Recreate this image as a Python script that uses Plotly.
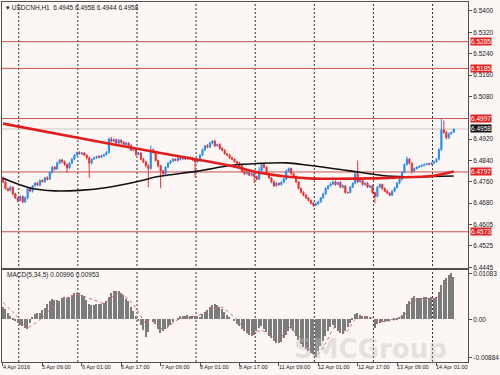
import plotly.graph_objects as go

# ---------------- data ----------------
symbol_title = "USDCNH,H1  6.4945 6.4958 6.4944 6.4958"
macd_title = "MACD(5,34,5) 0.00996 0.00953"

first_open = 6.4775
closes = [
    6.4760, 6.4735, 6.4728, 6.4740, 6.4715, 6.4700, 6.4690, 6.4705, 6.4685, 6.4700,
    6.4735, 6.4725, 6.4745, 6.4755, 6.4748, 6.4765, 6.4760, 6.4775, 6.4770, 6.4795,
    6.4815, 6.4808, 6.4830, 6.4842, 6.4835, 6.4825, 6.4812, 6.4830, 6.4845, 6.4860,
    6.4870, 6.4865, 6.4868, 6.4860, 6.4850, 6.4830, 6.4845, 6.4850, 6.4855, 6.4852,
    6.4858, 6.4862, 6.4870, 6.4920, 6.4912, 6.4918, 6.4905, 6.4915, 6.4908, 6.4900,
    6.4905, 6.4895, 6.4878, 6.4880, 6.4862, 6.4868, 6.4845, 6.4835, 6.4820, 6.4810,
    6.4880, 6.4870, 6.4840, 6.4820, 6.4800, 6.4790, 6.4815, 6.4830, 6.4838, 6.4845,
    6.4840, 6.4848, 6.4845, 6.4850, 6.4846, 6.4852, 6.4848, 6.4842, 6.4835, 6.4845,
    6.4860, 6.4880, 6.4895, 6.4890, 6.4905, 6.4912, 6.4895, 6.4900, 6.4885, 6.4878,
    6.4865, 6.4860, 6.4850, 6.4845, 6.4835, 6.4830, 6.4820, 6.4800, 6.4790, 6.4795,
    6.4785, 6.4790, 6.4780, 6.4770, 6.4800, 6.4825, 6.4815, 6.4790, 6.4775, 6.4760,
    6.4745, 6.4755, 6.4750, 6.4758, 6.4770, 6.4800, 6.4810, 6.4790, 6.4780, 6.4760,
    6.4735, 6.4720, 6.4710, 6.4700, 6.4690, 6.4680, 6.4672, 6.4678, 6.4685, 6.4700,
    6.4715, 6.4735, 6.4745, 6.4752, 6.4760, 6.4750, 6.4758, 6.4740, 6.4745, 6.4720,
    6.4720, 6.4740, 6.4755, 6.4790, 6.4760, 6.4765, 6.4750, 6.4755, 6.4740, 6.4745,
    6.4720, 6.4705, 6.4740, 6.4750, 6.4735, 6.4725, 6.4718, 6.4710, 6.4725, 6.4738,
    6.4755, 6.4770, 6.4795, 6.4825, 6.4845, 6.4830, 6.4800, 6.4810, 6.4815, 6.4818,
    6.4822, 6.4825, 6.4828, 6.4826, 6.4830, 6.4835, 6.4845, 6.4880, 6.4955, 6.4945,
    6.4925, 6.4940, 6.4945, 6.4958,
]
# upper / lower wick lengths in pips (0.0001) beyond the candle body
wick_up_pips = [
    5, 4, 3, 5, 3, 4, 3, 5, 4, 6,
    4, 5, 3, 4, 5, 4, 5, 3, 6, 4,
    5, 4, 6, 3, 4, 5, 3, 4, 5, 4,
    3, 5, 4, 3, 4, 5, 3, 4, 3, 5,
    4, 3, 5, 6, 8, 5, 4, 6, 5, 4,
    5, 4, 6, 3, 5, 4, 3, 5, 4, 6,
    17, 5, 4, 3, 4, 5, 3, 4, 5, 4,
    3, 4, 5, 3, 4, 3, 4, 5, 3, 4,
    4, 5, 3, 6, 6, 4, 5, 3, 4, 5,
    4, 3, 5, 4, 3, 4, 5, 3, 4, 5,
    4, 3, 5, 4, 15, 4, 5, 3, 4, 3,
    4, 5, 3, 4, 5, 6, 4, 3, 5, 4,
    4, 3, 5, 4, 3, 4, 3, 5, 4, 3,
    4, 5, 3, 6, 4, 5, 3, 4, 5, 3,
    4, 5, 3, 8, 50, 5, 4, 3, 5, 4,
    4, 3, 5, 4, 3, 4, 5, 3, 4, 3,
    4, 5, 3, 4, 10, 4, 3, 4, 3, 4,
    3, 4, 3, 4, 3, 4, 5, 6, 42, 35,
    5, 4, 3, 0,
]
wick_down_pips = [
    4, 5, 4, 3, 5, 4, 6, 3, 5, 4,
    6, 4, 5, 3, 4, 5, 3, 4, 5, 3,
    4, 5, 3, 4, 6, 5, 18, 4, 3, 5,
    4, 3, 5, 4, 6, 55, 5, 3, 4, 3,
    4, 5, 3, 4, 5, 3, 6, 4, 5, 3,
    4, 5, 3, 4, 5, 3, 4, 5, 6, 70,
    4, 5, 3, 6, 64, 5, 4, 3, 5, 4,
    3, 4, 5, 3, 4, 3, 4, 5, 60, 4,
    4, 3, 5, 4, 3, 5, 4, 3, 5, 4,
    3, 4, 5, 4, 3, 6, 4, 5, 4, 3,
    4, 5, 25, 4, 3, 4, 5, 4, 3, 5,
    4, 3, 5, 4, 3, 4, 5, 3, 4, 5,
    4, 3, 5, 4, 3, 4, 5, 3, 4, 3,
    3, 4, 5, 3, 4, 5, 3, 4, 5, 4,
    5, 4, 3, 4, 5, 3, 4, 5, 3, 4,
    4, 25, 3, 4, 5, 4, 3, 4, 3, 4,
    3, 4, 5, 3, 4, 5, 10, 3, 4, 3,
    3, 4, 3, 4, 3, 4, 3, 5, 4, 5,
    6, 4, 3, 1,
]

# moving averages: (bar index, value) knots
red_ma_bars = [0, 46, 92, 106, 124, 150, 160, 174, 183]
red_ma_vals = [6.4978, 6.4898, 6.4821, 6.4791, 6.4773, 6.4773, 6.4776, 6.4782, 6.4799]
black_ma_bars = [0, 11, 21, 31, 43, 55, 63, 79, 93, 104, 115, 124, 140, 156, 168, 183]
black_ma_vals = [6.4773, 6.4737, 6.4726, 6.4728, 6.4740, 6.4762, 6.4780, 6.4800, 6.4822,
                 6.4829, 6.4831, 6.4822, 6.4802, 6.4782, 6.4779, 6.4782]

# horizontal levels
levels = [6.5285, 6.5185, 6.4997, 6.4797, 6.4573]
current_price = 6.4958

# MACD histogram (one per bar)
macd_hist = [
    0.0030, 0.0024, 0.0015, 0.0008, 0.0002, -0.0004, -0.0008, -0.0012, -0.0016, -0.0020,
    -0.0022, -0.0008, 0.0006, 0.0012, 0.0015, 0.0016, 0.0022, 0.0027, 0.0036, 0.0044,
    0.0047, 0.0045, 0.0046, 0.0044, 0.0050, 0.0052, 0.0050, 0.0053, 0.0058, 0.0062,
    0.0062, 0.0061, 0.0058, 0.0054, 0.0045, 0.0036, 0.0034, 0.0034, 0.0036, 0.0035,
    0.0037, 0.0038, 0.0042, 0.0053, 0.0062, 0.0067, 0.0067, 0.0066, 0.0062, 0.0058,
    0.0048, 0.0042, 0.0030, 0.0019, 0.0008, -0.0004, -0.0012, -0.0025, -0.0040, -0.0030,
    0.0000, -0.0006, -0.0010, -0.0022, -0.0031, -0.0028, -0.0023, -0.0018, -0.0012, -0.0006,
    0.0000, 0.0004, 0.0008, 0.0009, 0.0009, 0.0010, 0.0009, 0.0008, 0.0009, 0.0007,
    0.0006, 0.0012, 0.0018, 0.0023, 0.0028, 0.0033, 0.0035, 0.0034, 0.0030, 0.0025,
    0.0018, 0.0011, 0.0005, 0.0000, -0.0004, -0.0010, -0.0015, -0.0022, -0.0028, -0.0031,
    -0.0036, -0.0038, -0.0036, -0.0028, -0.0020, -0.0015, -0.0022, -0.0030, -0.0038, -0.0044,
    -0.0050, -0.0054, -0.0054, -0.0052, -0.0044, -0.0036, -0.0027, -0.0019, -0.0028, -0.0038,
    -0.0048, -0.0058, -0.0064, -0.0069, -0.0074, -0.0079, -0.0082, -0.00884, -0.0075, -0.0061,
    -0.0050, -0.0038, -0.0027, -0.0018, -0.0012, -0.0020, -0.0027, -0.0032, -0.0035, -0.0026,
    -0.0018, -0.0008, 0.0004, 0.0012, 0.0015, 0.0010, 0.0009, 0.0008, 0.0007, 0.0005,
    0.0000, -0.0019, -0.0010, -0.0008, -0.0006, -0.0005, -0.0004, -0.0002, -0.0001, 0.0001,
    0.0003, 0.0006, 0.0011, 0.0018, 0.0035, 0.0042, 0.0050, 0.0054, 0.0051, 0.0050,
    0.0051, 0.0052, 0.0052, 0.0051, 0.0052, 0.0051, 0.0052, 0.0065, 0.0081, 0.0092,
    0.0097, 0.0104, 0.01083, 0.00996,
]
# MACD signal line knots
signal_bars = [0, 5, 10, 16, 22, 30, 37, 41, 47, 53, 58, 60, 65, 71, 79, 88, 95, 100, 105,
               112, 116, 122, 127, 131, 135, 139, 143, 150, 152, 158, 163, 166, 171, 176, 179, 183]
signal_vals = [0.0040, 0.0012, -0.0018, 0.0005, 0.0040, 0.0058, 0.0046, 0.0038, 0.0063, 0.0035,
               -0.0008, 0.0002, -0.0023, 0.0000, 0.0009, 0.0031, 0.0000, -0.0035, -0.0025,
               -0.0048, -0.0018, -0.0050, -0.0085, -0.0055, -0.0015, -0.0031, 0.0000, 0.0004,
               -0.0004, -0.0002, 0.0011, 0.0042, 0.0050, 0.0050, 0.0077, 0.00953]

# time axis labels (every 16 bars)
time_label_bars = [0, 16, 32, 48, 64, 80, 96, 112, 128, 144, 160, 176]
time_labels = ["4 Apr 2016", "5 Apr 09:00", "6 Apr 01:00", "6 Apr 17:00", "7 Apr 09:00",
               "8 Apr 01:00", "8 Apr 17:00", "11 Apr 09:00", "12 Apr 01:00", "12 Apr 17:00",
               "13 Apr 09:00", "14 Apr 01:00"]
grid_bars = [6.4, 30.4, 54.4, 78.4, 102.4, 126.4, 150.4, 174.4]

price_tickvals = [6.5400, 6.5320, 6.5240, 6.5160, 6.5080, 6.4920, 6.4840, 6.4760, 6.4680,
                  6.4600, 6.4520, 6.4440]
price_ticktext = ["6.5400", "6.5320", "6.5240", "6.5160", "6.5080", "6.4920", "6.4840",
                  "6.4760", "6.4680", "6.4605", "6.4525", "6.4445"]
macd_tickvals = [0.01083, 0.0, -0.00884]
macd_ticktext = ["0.01083", "0.00", "-0.00884"]

# ---------------- build ----------------
n = len(closes)
bars = list(range(n))
opens = [first_open] + closes[:-1]
highs = [max(o, c) + u * 1e-4 for o, c, u in zip(opens, closes, wick_up_pips)]
lows = [min(o, c) - d * 1e-4 for o, c, d in zip(opens, closes, wick_down_pips)]

BG = "#FCF7F5"
FRAME = "#505050"
FONT = "Liberation Sans"
BULL = "#2A8CF0"
BEAR = "#EE3030"

fig = go.Figure()

fig.add_trace(go.Candlestick(
    x=bars, open=opens, high=highs, low=lows, close=closes,
    increasing=dict(line=dict(color=BULL, width=1), fillcolor=BULL),
    decreasing=dict(line=dict(color=BEAR, width=1), fillcolor=BEAR),
    whiskerwidth=0, showlegend=False, hoverinfo="skip",
    xaxis="x", yaxis="y",
))
fig.add_trace(go.Scatter(
    x=black_ma_bars, y=black_ma_vals, mode="lines",
    line=dict(color="#111111", width=1.6, shape="spline", smoothing=1.0),
    showlegend=False, hoverinfo="skip", xaxis="x", yaxis="y",
))
fig.add_trace(go.Scatter(
    x=red_ma_bars, y=red_ma_vals, mode="lines",
    line=dict(color="#E01E1E", width=2.6, shape="spline", smoothing=0.8),
    showlegend=False, hoverinfo="skip", xaxis="x", yaxis="y",
))

fig.add_trace(go.Bar(
    x=bars, y=macd_hist, width=0.6, marker=dict(color="#7C7C7C", line=dict(width=0)),
    showlegend=False, hoverinfo="skip", xaxis="x2", yaxis="y2",
))
fig.add_trace(go.Scatter(
    x=signal_bars, y=signal_vals, mode="lines",
    line=dict(color="#C86A6A", width=1, dash="dot", shape="spline", smoothing=0.6),
    showlegend=False, hoverinfo="skip", xaxis="x2", yaxis="y2",
))

shapes = []
for g in grid_bars:
    shapes.append(dict(type="line", xref="x", yref="paper", x0=g, x1=g, y0=0, y1=1,
                       line=dict(color="#303030", width=1, dash="2px,2px"), layer="below"))
for lv in levels:
    shapes.append(dict(type="line", xref="paper", yref="y", x0=0, x1=1, y0=lv, y1=lv,
                       line=dict(color="#C65050", width=1), layer="below"))
shapes.append(dict(type="line", xref="paper", yref="y", x0=0, x1=1, y0=current_price,
                   y1=current_price, line=dict(color="#C8C8C8", width=1), layer="below"))

annotations = []
# faint watermark (drawn first so it sits behind the other texts)
annotations.append(dict(x=0.79, xref="paper", y=0.036, yref="paper", xanchor="center",
                        yanchor="middle", text="<b>SMCGroup</b>", showarrow=False,
                        font=dict(family="DejaVu Sans", size=26, color="rgba(190,190,190,0.40)")))
for lv in levels:
    annotations.append(dict(x=1, xref="paper", y=lv, yref="y", xanchor="left", yanchor="middle",
                            xshift=2, text=f"{lv:.4f}", showarrow=False, bgcolor="#E42222",
                            borderpad=0, font=dict(family=FONT, size=6.5, color="white")))
annotations.append(dict(x=1, xref="paper", y=current_price, yref="y", xanchor="left",
                        yanchor="middle", xshift=2, text=f"{current_price:.4f}", showarrow=False,
                        bgcolor="#111111", borderpad=0,
                        font=dict(family=FONT, size=6.5, color="white")))
for b, t in zip(time_label_bars, time_labels):
    annotations.append(dict(x=b, xref="x2", y=-0.015, yref="paper", xanchor="left",
                            yanchor="middle", xshift=-2, text=t, showarrow=False,
                            font=dict(family=FONT, size=5.6, color="#222222")))
annotations.append(dict(x=0.004, xref="paper", y=0.986, yref="paper", xanchor="left",
                        yanchor="middle", text="\u25BE " + symbol_title, showarrow=False,
                        font=dict(family=FONT, size=6.5, color="#222222")))
annotations.append(dict(x=0.006, xref="paper", y=0.241, yref="paper", xanchor="left",
                        yanchor="middle", text=macd_title, showarrow=False,
                        font=dict(family=FONT, size=6.5, color="#222222")))

axis_common = dict(showgrid=False, zeroline=False, showline=True, mirror=True,
                   linecolor=FRAME, linewidth=1)

fig.update_layout(
    width=500, height=375,
    margin=dict(l=2, r=25, t=1, b=13),
    paper_bgcolor=BG, plot_bgcolor=BG,
    showlegend=False,
    boxgap=0.35,
    xaxis=dict(domain=[0, 1], anchor="y", range=[-0.4, 188.8], showticklabels=False,
               ticks="", rangeslider=dict(visible=False), **axis_common),
    yaxis=dict(domain=[0.2604, 1], anchor="x", side="right", range=[6.44363, 6.54336],
               tickvals=price_tickvals, ticktext=price_ticktext, ticks="outside", ticklen=3,
               tickcolor=FRAME, tickfont=dict(family=FONT, size=6.5, color="#222222"),
               **axis_common),
    xaxis2=dict(domain=[0, 1], anchor="y2", range=[-0.4, 188.8], showticklabels=False,
                tickvals=time_label_bars, ticks="outside", ticklen=3, tickcolor=FRAME,
                **axis_common),
    yaxis2=dict(domain=[0, 0.2548], anchor="x2", side="right", range=[-0.00989, 0.01153],
                tickvals=macd_tickvals, ticktext=macd_ticktext, ticks="outside", ticklen=3,
                tickcolor=FRAME, tickfont=dict(family=FONT, size=6.5, color="#222222"),
                **axis_common),
    shapes=shapes,
    annotations=annotations,
    bargap=0,
)

fig.write_html("out.html")
